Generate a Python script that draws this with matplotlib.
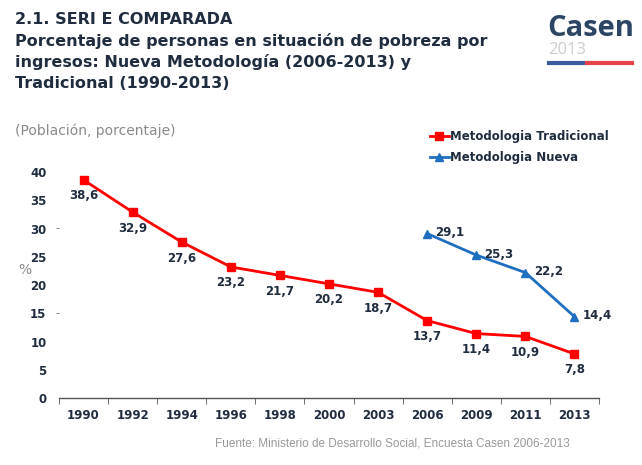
import matplotlib
matplotlib.use("Agg")
import matplotlib.pyplot as plt
from matplotlib.lines import Line2D
import numpy as np

# data
years = ["1990", "1992", "1994", "1996", "1998", "2000", "2003", "2006", "2009", "2011", "2013"]
tradicional = [38.6, 32.9, 27.6, 23.2, 21.7, 20.2, 18.7, 13.7, 11.4, 10.9, 7.8]
nueva_years = ["2006", "2009", "2011", "2013"]
nueva = [29.1, 25.3, 22.2, 14.4]
yticks = [0, 5, 10, 15, 20, 25, 30, 35, 40]

navy = "#1f2d3f"
gray = "#8a8a8a"
red = "#ff0000"
blue = "#1f6fc0"
bold_font = "DejaVu Sans"

plt.rcParams['font.family'] = ['DejaVu Sans']

fig = plt.figure(figsize=(6.42, 4.65), dpi=100)
ax = fig.add_axes([59/642, 1 - 398/465, (599 - 59)/642, (398 - 172)/465])

x = np.arange(len(years))
xn = [years.index(y) for y in nueva_years]

ax.plot(x, tradicional, color=red, lw=2, marker="s", ms=6, label="Metodologia Tradicional", clip_on=False)
ax.plot(xn, nueva, color=blue, lw=2, marker="^", ms=6, label="Metodologia Nueva", clip_on=False)

for xi, v in zip(x, tradicional):
    ax.annotate(f"{v:.1f}".replace(".", ","), (xi, v), xytext=(0, -11.5), textcoords="offset points",
                ha="center", va="center", fontsize=8.5, fontweight="bold", color=navy)
for xi, v in zip(xn, nueva):
    ax.annotate(f"{v:.1f}".replace(".", ","), (xi, v), xytext=(6, 0.5), textcoords="offset points",
                ha="left", va="center", fontsize=8.5, fontweight="bold", color=navy)

ax.set_xlim(-0.5, len(years) - 0.5)
ax.set_ylim(0, 40)
ax.set_xticks(x)
ax.set_xticklabels(years, fontsize=8.5, fontweight="bold", color=navy)
ax.set_xticks(np.arange(len(years) + 1) - 0.5, minor=True)
ax.tick_params(axis="x", which="major", length=0, pad=8)
ax.tick_params(axis="x", which="minor", length=4, color="#555555", direction="out")
ax.set_yticks(yticks)
ax.set_yticklabels([str(t) for t in yticks], fontsize=8.5, fontweight="bold", color=navy)
ax.tick_params(axis="y", length=0, pad=9)
for s in ["top", "right", "left"]:
    ax.spines[s].set_visible(False)
ax.spines["bottom"].set_color("#555555")
ax.spines["bottom"].set_linewidth(1)

# stray marks next to the y axis
ax.text(-0.53, 30, "-", fontsize=8, color="#666666", ha="center", va="center")
ax.text(-0.53, 15, "-", fontsize=8, color="#666666", ha="center", va="center")

leg = ax.legend(loc="upper left", bbox_to_anchor=(430/642, 1 - 130/465), bbox_transform=fig.transFigure,
                frameon=False, fontsize=8.5, handlelength=1.6, handletextpad=0.1, labelspacing=0.65,
                borderaxespad=0, borderpad=0)
for t in leg.get_texts():
    t.set_fontweight("bold")
    t.set_color(navy)

# titles
fig.text(15/642, 1 - 20/465, "2.1. SERI E COMPARADA", fontsize=11.5, fontweight="bold", color=navy, va="center")
title_lines = ["Porcentaje de personas en situación de pobreza por",
               "ingresos: Nueva Metodología (2006-2013) y",
               "Tradicional (1990-2013)"]
for i, line in enumerate(title_lines):
    fig.text(15/642, 1 - (41 + 21*i)/465, line, fontsize=11.5, fontweight="bold", color=navy, va="center")

fig.text(15/642, 1 - 131/465, "(Población, porcentaje)", fontsize=10, color=gray, va="center")
fig.text(25/642, 1 - 270/465, "%", fontsize=10, color=gray, va="center", ha="center")
fig.text(215/642, 1 - 443/465, "Fuente: Ministerio de Desarrollo Social, Encuesta Casen 2006-2013",
         fontsize=8.5, color="#999999", va="center", family="Liberation Sans")

# Casen logo
fig.text(547/642, 1 - 28/465, "Casen", fontsize=21, fontweight="bold", color="#2b4562",
         family="Open Sans", va="center")
fig.text(548/642, 1 - 50/465, "2013", fontsize=12, color="#cccccc", family="Open Sans", va="center")
fig.add_artist(Line2D([549/642, 587/642], [1 - 63.5/465, 1 - 63.5/465], color="#3b5aa0", lw=3))
fig.add_artist(Line2D([587/642, 632/642], [1 - 63.5/465, 1 - 63.5/465], color="#e8424a", lw=3))

fig.savefig("out.png", dpi=100)
